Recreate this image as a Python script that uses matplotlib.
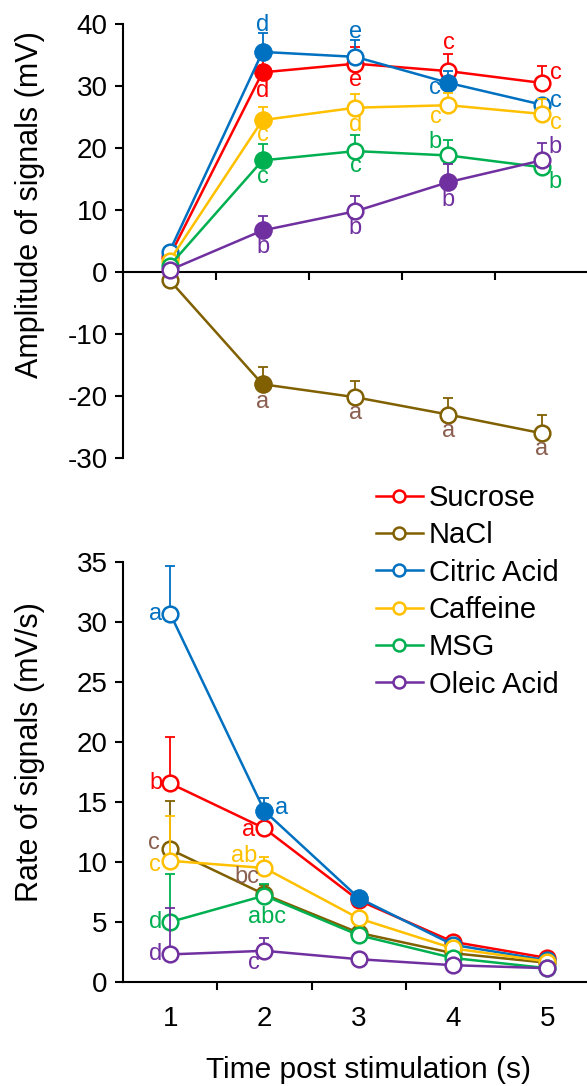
import numpy as np
import matplotlib
matplotlib.use("Agg")
import matplotlib.pyplot as plt
from matplotlib.lines import Line2D

plt.rcParams['font.family'] = ['Liberation Sans', 'DejaVu Sans']
plt.rcParams['axes.unicode_minus'] = False

# ---------------- data ----------------
time_s = [1, 2, 3, 4, 5]
tastants = ["Sucrose", "NaCl", "Citric Acid", "Caffeine", "MSG", "Oleic Acid"]

# amplitude of signals (mV), mean and upper SEM
amp_sucrose = [2.5, 32.2, 33.6, 32.4, 30.5]
amp_nacl = [-1.3, -18.1, -20.2, -23.0, -26.0]
amp_citric = [3.3, 35.5, 34.7, 30.5, 27.0]
amp_caffeine = [1.8, 24.5, 26.5, 26.9, 25.5]
amp_msg = [1.0, 18.0, 19.5, 18.8, 16.9]
amp_oleic = [0.3, 6.7, 9.8, 14.5, 18.0]

amp_err_sucrose = [0.8, 2.6, 2.7, 2.8, 2.7]
amp_err_nacl = [0.8, 2.8, 2.7, 2.6, 2.9]
amp_err_citric = [0.8, 3.0, 2.7, 2.0, 0.8]
amp_err_caffeine = [0.8, 2.1, 2.2, 2.0, 2.4]
amp_err_msg = [0.6, 2.6, 2.6, 2.5, 1.5]
amp_err_oleic = [0.4, 2.4, 2.4, 2.9, 2.8]

# rate of signals (mV/s), mean and upper SEM
rate_sucrose = [16.55, 12.8, 6.8, 3.35, 2.0]
rate_nacl = [11.05, 7.3, 4.1, 2.4, 1.6]
rate_citric = [30.7, 14.25, 7.0, 3.1, 1.8]
rate_caffeine = [10.1, 9.5, 5.3, 2.8, 1.7]
rate_msg = [5.0, 7.2, 3.9, 2.0, 1.15]
rate_oleic = [2.3, 2.6, 1.9, 1.4, 1.15]

rate_err_sucrose = [3.9, 1.0, 0.5, 0.3, 0.2]
rate_err_nacl = [4.0, 0.8, 0.4, 0.3, 0.2]
rate_err_citric = [4.0, 1.1, 0.5, 0.3, 0.2]
rate_err_caffeine = [3.7, 0.95, 0.5, 0.3, 0.2]
rate_err_msg = [4.0, 1.0, 0.4, 0.3, 0.2]
rate_err_oleic = [3.9, 1.1, 0.3, 0.2, 0.2]

# time points where the response differs significantly from baseline (filled markers)
amp_sig_sucrose = [2]
amp_sig_nacl = [2]
amp_sig_citric = [2, 4]
amp_sig_caffeine = [2]
amp_sig_msg = [2]
amp_sig_oleic = [2, 4]
rate_sig_citric = [2, 3]

# post-hoc grouping letters: (series, time, letter)
amp_letters = [
    ("Citric Acid", 2, "d"), ("Citric Acid", 3, "e"), ("Citric Acid", 4, "c"), ("Citric Acid", 5, "c"),
    ("Sucrose", 2, "d"), ("Sucrose", 3, "e"), ("Sucrose", 4, "c"), ("Sucrose", 5, "c"),
    ("Caffeine", 2, "c"), ("Caffeine", 3, "d"), ("Caffeine", 4, "c"), ("Caffeine", 5, "c"),
    ("MSG", 2, "c"), ("MSG", 3, "c"), ("MSG", 4, "b"), ("MSG", 5, "b"),
    ("Oleic Acid", 2, "b"), ("Oleic Acid", 3, "b"), ("Oleic Acid", 4, "b"), ("Oleic Acid", 5, "b"),
    ("NaCl", 2, "a"), ("NaCl", 3, "a"), ("NaCl", 4, "a"), ("NaCl", 5, "a"),
]
rate_letters = [
    ("Citric Acid", 1, "a"), ("Citric Acid", 2, "a"),
    ("Sucrose", 1, "b"), ("Sucrose", 2, "a"),
    ("NaCl", 1, "c"), ("NaCl", 2, "bc"),
    ("Caffeine", 1, "c"), ("Caffeine", 2, "ab"),
    ("MSG", 1, "d"), ("MSG", 2, "abc"),
    ("Oleic Acid", 1, "d"), ("Oleic Acid", 2, "c"),
]

# ---------------- styling ----------------
colors = {"Sucrose": "#ff0000", "NaCl": "#806000", "Citric Acid": "#0070c0",
          "Caffeine": "#ffc000", "MSG": "#00b050", "Oleic Acid": "#7030a0"}
letter_colors = dict(colors)
letter_colors["NaCl"] = "#8a5f50"

# letter offsets from their point, in pixels (dx, dy; dy positive = up)
amp_offsets = [
    (0, 27), (0, 25), (-14, -5), (14, 4),
    (0, -19), (0, -16), (0, 28), (14, 10),
    (0, -15), (0, -17), (-13, -12), (14, -9),
    (0, -17), (0, -15), (-13, 13), (14, -15),
    (0, -17), (0, -17), (0, -18), (14, 13),
    (0, -18), (0, -16), (0, -16), (0, -16),
]
rate_offsets = [
    (-15, 0), (17, 3),
    (-14, 0), (-16, -2),
    (-16, 6), (-18, 17),
    (-15, -4), (-20, 12),
    (-15, 0), (3, -21),
    (-15, 0), (-11, -12),
]

amp_mean = dict(zip(tastants, [amp_sucrose, amp_nacl, amp_citric, amp_caffeine, amp_msg, amp_oleic]))
amp_err = dict(zip(tastants, [amp_err_sucrose, amp_err_nacl, amp_err_citric, amp_err_caffeine, amp_err_msg, amp_err_oleic]))
amp_sig = dict(zip(tastants, [amp_sig_sucrose, amp_sig_nacl, amp_sig_citric, amp_sig_caffeine, amp_sig_msg, amp_sig_oleic]))
rate_mean = dict(zip(tastants, [rate_sucrose, rate_nacl, rate_citric, rate_caffeine, rate_msg, rate_oleic]))
rate_err = dict(zip(tastants, [rate_err_sucrose, rate_err_nacl, rate_err_citric, rate_err_caffeine, rate_err_msg, rate_err_oleic]))
rate_sig = {name: (rate_sig_citric if name == "Citric Acid" else []) for name in tastants}

LW = 1.8
MS = 11.3
TICK_FS = 20
LETTER_FS = 17

fig = plt.figure(figsize=(5.87, 10.86), dpi=100)
W, H = 587.0, 1086.0
ax1 = fig.add_axes([123 / W, 1 - 458 / H, 465 / W, 434 / H])
ax2 = fig.add_axes([123 / W, 1 - 982 / H, 1 - 123 / W, 420 / H])


def draw_series(ax, name, means, errs, sig, z):
    x = np.array(time_s, dtype=float)
    y = np.array(means, dtype=float)
    e = np.array(errs, dtype=float)
    c = colors[name]
    ax.errorbar(x, y, yerr=[np.zeros_like(e), e], fmt='none', ecolor=c,
                elinewidth=1.3, capsize=3.6, capthick=1.3, zorder=z, clip_on=False)
    ax.plot(x, y, '-o', color=c, lw=LW, ms=MS, mfc='white', mec=c, mew=LW,
            zorder=z + 0.01, clip_on=False)
    if sig:
        idx = [time_s.index(t) for t in sig]
        ax.plot(x[idx], y[idx], 'o', ms=MS, mfc=c, mec=c, mew=LW,
                zorder=z + 0.02, clip_on=False)


def draw_letters(ax, means, letters, offsets):
    for (name, t, txt), (dx, dy) in zip(letters, offsets):
        ax.annotate(txt, (t, means[name][time_s.index(t)]), xytext=(dx, dy),
                    textcoords='offset pixels', ha='center', va='center',
                    fontsize=LETTER_FS, color=letter_colors[name], zorder=10,
                    annotation_clip=False)


for i, name in enumerate(tastants):
    draw_series(ax1, name, amp_mean[name], amp_err[name], amp_sig[name], 2 + i * 0.1)
    draw_series(ax2, name, rate_mean[name], rate_err[name], rate_sig[name], 2 + i * 0.1)
draw_letters(ax1, amp_mean, amp_letters, amp_offsets)
draw_letters(ax2, rate_mean, rate_letters, rate_offsets)

# ---------------- axes: amplitude ----------------
ax1.set_xlim(0.5, 5.5)
ax1.set_ylim(-30, 40)
ax1.set_yticks(np.arange(-30, 41, 10))
ax1.spines['bottom'].set_position(('data', 0))
ax1.spines['top'].set_visible(False)
ax1.spines['right'].set_visible(False)
ax1.set_xticks([1.5, 2.5, 3.5, 4.5])
ax1.set_xticklabels([])

# ---------------- axes: rate ----------------
ax2.set_xlim(0.5, 5.42)
ax2.set_ylim(0, 35)
ax2.set_yticks(np.arange(0, 36, 5))
ax2.spines['top'].set_visible(False)
ax2.spines['right'].set_visible(False)
ax2.set_xticks([1.5, 2.5, 3.5, 4.5])
ax2.set_xticklabels([])
ax2.set_xticks(time_s, minor=True)
ax2.set_xticklabels([str(t) for t in time_s], minor=True)
ax2.tick_params(axis='x', which='minor', length=0, pad=17, labelsize=TICK_FS)

for ax in (ax1, ax2):
    for sp in ('left', 'bottom'):
        ax.spines[sp].set_linewidth(1.5)
    ax.tick_params(axis='both', which='major', direction='out', length=6, width=1.5,
                   labelsize=TICK_FS, pad=5)

fig.text(30 / W, 1 - 205 / H, "Amplitude of signals (mV)", rotation=90,
         ha='center', va='center', fontsize=22)
fig.text(30 / W, 1 - 752 / H, "Rate of signals (mV/s)", rotation=90,
         ha='center', va='center', fontsize=22)
fig.text(369 / W, 1 - 1070 / H, "Time post stimulation (s)",
         ha='center', va='center', fontsize=21.5)

handles = [Line2D([], [], color=colors[n], lw=LW, marker='o', ms=8.6,
                  mfc='white', mec=colors[n], mew=LW) for n in tastants]
fig.legend(handles, tastants, loc='upper left', bbox_to_anchor=(376 / W, 1 - 484 / H),
           frameon=False, fontsize=21, handlelength=1.6, handletextpad=0.2,
           labelspacing=0.32, borderpad=0, borderaxespad=0)

fig.savefig("out.png", dpi=100)
